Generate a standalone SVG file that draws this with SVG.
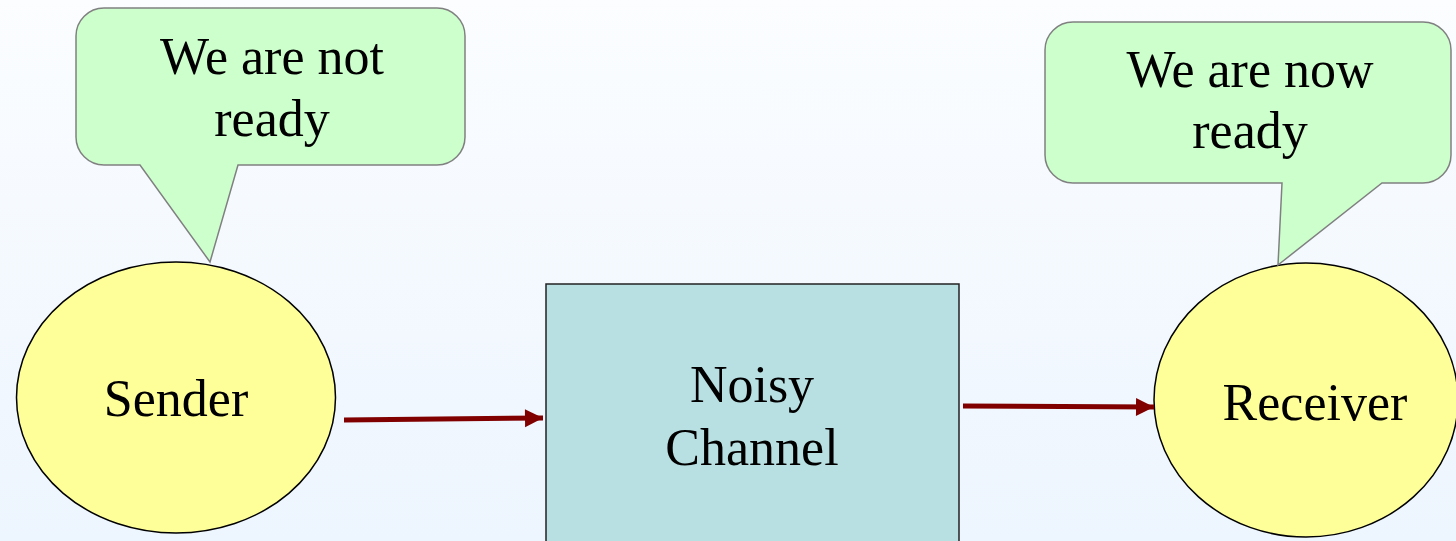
<svg xmlns="http://www.w3.org/2000/svg" width="1456" height="541" viewBox="0 0 1456 541">
  <defs>
    <linearGradient id="bg" x1="0" y1="0" x2="0" y2="1">
      <stop offset="0" stop-color="#fbfdff"/>
      <stop offset="1" stop-color="#edf5fe"/>
    </linearGradient>
    <marker id="head" markerUnits="userSpaceOnUse" markerWidth="20" markerHeight="20" viewBox="0 0 20 20" refX="19" refY="10" orient="auto">
      <path d="M1,1 L19,10 L1,19 Z" fill="#800000"/>
    </marker>
    <style>
      .label { font-family: "Liberation Serif", "Times New Roman", serif; font-size: 52px; fill: #000; text-anchor: middle; }
      .party { fill: #ffff99; stroke: #000; stroke-width: 1.5; }
      .callout { fill: #ccffcc; stroke: #808080; stroke-width: 1.5; stroke-linejoin: miter; }
      .channel { fill: #b8e0e2; stroke: #222; stroke-width: 1.5; }
      .flow { stroke: #800000; stroke-width: 5; fill: none; marker-end: url(#head); }
    </style>
  </defs>

  <rect x="0" y="0" width="1456" height="541" fill="url(#bg)"/>

  <g id="sender">
    <ellipse class="party" cx="176" cy="397.5" rx="159.5" ry="135.5"/>
    <text class="label" x="176" y="416">Sender</text>
  </g>

  <g id="channel">
    <rect class="channel" x="546" y="284" width="413" height="280"/>
    <text class="label" x="752" y="402">Noisy</text>
    <text class="label" x="752" y="465">Channel</text>
  </g>

  <g id="receiver">
    <ellipse class="party" cx="1306" cy="400" rx="152" ry="137"/>
    <text class="label" x="1315" y="420">Receiver</text>
  </g>

  <g id="sender-callout">
    <path class="callout" d="M104,8 H437 A28,28 0 0 1 465,36 V137 A28,28 0 0 1 437,165 H238 L210,262 L140,165 H104 A28,28 0 0 1 76,137 V36 A28,28 0 0 1 104,8 Z"/>
    <text class="label" x="272" y="74">We are not</text>
    <text class="label" x="272" y="136">ready</text>
  </g>

  <g id="receiver-callout">
    <path class="callout" d="M1073,22 H1423 A28,28 0 0 1 1451,50 V155 A28,28 0 0 1 1423,183 H1382 L1278,265 L1282,183 H1073 A28,28 0 0 1 1045,155 V50 A28,28 0 0 1 1073,22 Z"/>
    <text class="label" x="1250" y="87">We are now</text>
    <text class="label" x="1250" y="148">ready</text>
  </g>

  <g id="connectors">
    <line class="flow" x1="344" y1="420" x2="543" y2="418"/>
    <line class="flow" x1="963" y1="406" x2="1154" y2="407"/>
  </g>
</svg>
